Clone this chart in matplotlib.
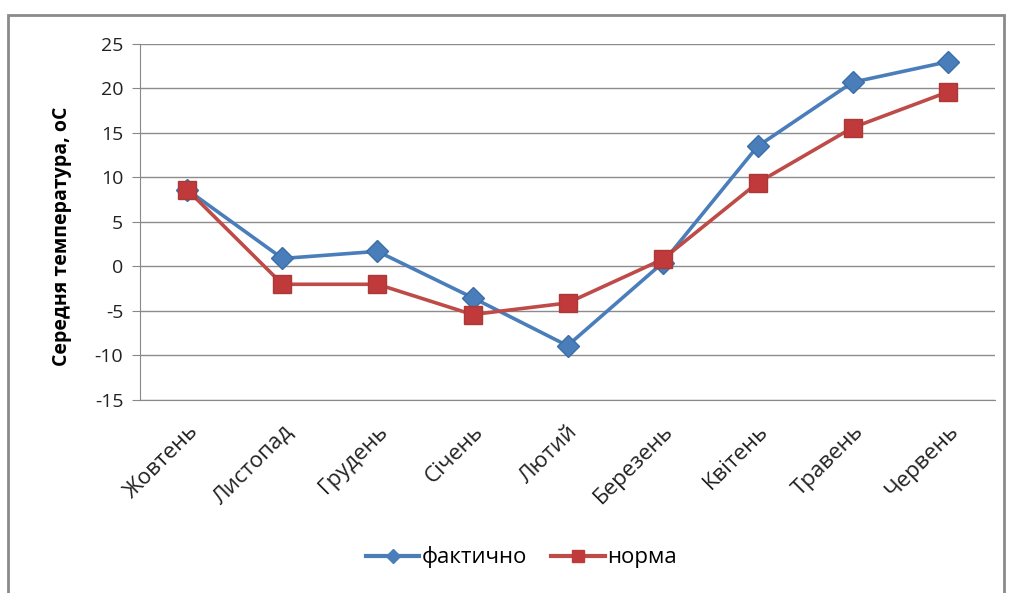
import matplotlib
matplotlib.use("Agg")
import matplotlib.pyplot as plt
from matplotlib.lines import Line2D
from matplotlib.patches import Rectangle

plt.rcParams['font.family'] = ['Open Sans', 'DejaVu Sans']

# місяці сезону та середні температури
months = ['Жовтень', 'Листопад', 'Грудень', 'Січень', 'Лютий',
          'Березень', 'Квітень', 'Травень', 'Червень']
actual = [8.6, 0.9, 1.7, -3.5, -8.9, 0.4, 13.5, 20.7, 23.0]
normal = [8.6, -2.0, -2.0, -5.4, -4.1, 0.8, 9.4, 15.6, 19.6]
yticks = [-15, -10, -5, 0, 5, 10, 15, 20, 25]

blue = '#4A7EBB'
red = '#BE4B48'

fig = plt.figure(figsize=(10.12, 5.93), dpi=100)
ax = fig.add_axes([0.1383, 0.3255, 0.845, 0.6003])

x = range(len(months))
ax.plot(x, actual, color=blue, lw=2.6, marker='D', ms=11,
        mfc=blue, mec='#3B6EA8', zorder=3)
ax.plot(x, normal, color=red, lw=2.6, marker='s', ms=13.5,
        mfc='#C0393B', mec='#A83A37', zorder=4)

ax.set_xlim(-0.5, len(months) - 0.5)
ax.set_ylim(-15, 25)
ax.set_yticks(yticks)
ax.set_yticklabels([str(v) for v in yticks], fontsize=14, color='#222222')
ax.set_xticks(list(x))
ax.set_xticklabels(months, rotation=45, ha='right', va='top',
                   rotation_mode='anchor', fontsize=16, color='#222222')
ax.tick_params(axis='x', length=0, pad=15)
ax.tick_params(axis='y', length=6, direction='out', color='#888888', pad=6)

ax.grid(axis='y', color='#8c8c8c', lw=1)
ax.set_axisbelow(True)
for side in ['top', 'right']:
    ax.spines[side].set_visible(False)
ax.spines['left'].set_color('#888888')
ax.spines['bottom'].set_color('#888888')

ax.set_ylabel('Середня температура, оС', fontsize=14, fontweight='bold')
ax.yaxis.set_label_coords(-0.08, 0.46)

handles = [
    Line2D([], [], color=blue, lw=3, marker='D', ms=7, mfc=blue, mec=blue),
    Line2D([], [], color=red, lw=3, marker='s', ms=9, mfc='#C0393B', mec='#C0393B'),
]
fig.legend(handles, ['фактично', 'норма'], loc='center',
           bbox_to_anchor=(0.515, 0.06), ncol=2, frameon=False,
           fontsize=16, handlelength=2.4, handletextpad=0.1, columnspacing=1.1)

# рамка навколо діаграми
fig.patches.append(Rectangle((0.008, -0.02), 0.984, 0.995, transform=fig.transFigure,
                             fill=False, edgecolor='#8a8a8a', lw=2))

fig.savefig('out.png', dpi=100)
